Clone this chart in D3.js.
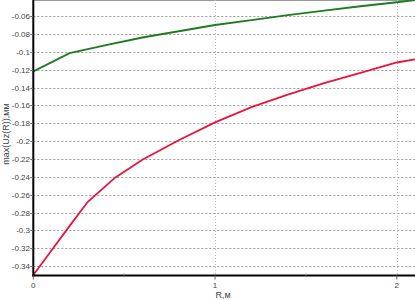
<!DOCTYPE html>
<html>
<head>
<meta charset="utf-8">
<script src="https://cdn.jsdelivr.net/npm/d3@7"></script>
<style>
html,body{margin:0;padding:0;background:#fff;}
svg{display:block;}
text{font-family:"Liberation Sans",Arial,sans-serif;}
</style>
</head>
<body>
<svg id="c" width="415" height="300"></svg>
<script>
const greenR = [0, 0.2, 0.4, 0.6, 0.8, 1.0, 1.2, 1.4, 1.6, 1.8, 2.0, 2.1];
const greenV = [-0.122, -0.1015, -0.0925, -0.084, -0.077, -0.070, -0.0645, -0.059, -0.054, -0.049, -0.0445, -0.042];
const redR = [0, 0.2, 0.3, 0.45, 0.6, 0.8, 1.0, 1.2, 1.4, 1.6, 1.8, 2.0, 2.1];
const redV = [-0.35, -0.295, -0.268, -0.241, -0.221, -0.199, -0.179, -0.162, -0.148, -0.135, -0.1235, -0.112, -0.1085];
const yTicks = [-0.06, -0.08, -0.1, -0.12, -0.14, -0.16, -0.18, -0.2, -0.22, -0.24, -0.26, -0.28, -0.3, -0.32, -0.34];
const xTicks = [0, 1, 2];
const xMinor = [0.5, 1.5];

const svg = d3.select("#c");
const x = d3.scaleLinear().domain([0, 2.1]).range([33.3, 415]);
const y = d3.scaleLinear().domain([-0.35, -0.042]).range([275, 0]);
const L = 33.3, R = 415, T = 0, B = 275.5;

// top border
svg.append("line").attr("x1", L).attr("x2", R).attr("y1", 0.5).attr("y2", 0.5)
  .attr("stroke", "#999").attr("stroke-width", 1);

// horizontal grid
svg.append("g").selectAll("line").data(yTicks).join("line")
  .attr("x1", L).attr("x2", R)
  .attr("y1", d => Math.round(y(d)) + 0.5).attr("y2", d => Math.round(y(d)) + 0.5)
  .attr("stroke", "#999").attr("stroke-dasharray", "2,2");

// vertical grid
svg.append("g").selectAll("line").data(xTicks.filter(d => d > 0)).join("line")
  .attr("x1", d => Math.round(x(d)) + 0.5).attr("x2", d => Math.round(x(d)) + 0.5)
  .attr("y1", T).attr("y2", B)
  .attr("stroke", "#bbb").attr("stroke-dasharray", "1,2");

// lines
const clip = svg.append("clipPath").attr("id", "pc").append("rect")
  .attr("x", L).attr("y", 0).attr("width", R - L).attr("height", B);
const line = d3.line().x(d => x(d[0])).y(d => y(d[1]));
const g = svg.append("g").attr("clip-path", "url(#pc)");
g.append("path").datum(greenR.map((r, i) => [r, greenV[i]]))
  .attr("d", line).attr("fill", "none").attr("stroke", "#1f7a22").attr("stroke-width", 1.8);
g.append("path").datum(redR.map((r, i) => [r, redV[i]]))
  .attr("d", line).attr("fill", "none").attr("stroke", "#e8163c").attr("stroke-width", 1.8);

// axes lines
svg.append("line").attr("x1", L).attr("x2", L).attr("y1", 0).attr("y2", B + 1)
  .attr("stroke", "#000").attr("stroke-width", 2);
svg.append("line").attr("x1", L - 1).attr("x2", R).attr("y1", B).attr("y2", B)
  .attr("stroke", "#000").attr("stroke-width", 2);

// y ticks & labels
const fmt = v => String(+v.toFixed(2));
svg.append("g").selectAll("line").data(yTicks).join("line")
  .attr("x1", L - 3).attr("x2", L)
  .attr("y1", d => Math.round(y(d)) + 0.5).attr("y2", d => Math.round(y(d)) + 0.5)
  .attr("stroke", "#666");
svg.append("g").selectAll("text").data(yTicks).join("text")
  .attr("x", 30).attr("y", d => y(d) + 3)
  .attr("text-anchor", "end").attr("font-size", 8).attr("fill", "#444")
  .text(fmt);

// x ticks & labels
svg.append("g").selectAll("line").data(xTicks).join("line")
  .attr("x1", d => x(d)).attr("x2", d => x(d))
  .attr("y1", B).attr("y2", B + 4)
  .attr("stroke", "#666");
svg.append("g").selectAll("line").data(xMinor).join("line")
  .attr("x1", d => x(d)).attr("x2", d => x(d))
  .attr("y1", B - 2).attr("y2", B)
  .attr("stroke", "#999");
svg.append("g").selectAll("text").data(xTicks).join("text")
  .attr("x", d => x(d)).attr("y", 288)
  .attr("text-anchor", "middle").attr("font-size", 8).attr("fill", "#444")
  .text(d => String(d));

// titles
svg.append("text").attr("x", 223).attr("y", 298).attr("text-anchor", "middle")
  .attr("font-size", 9).attr("fill", "#444").text("R,м");
svg.append("text").attr("transform", "translate(9,134) rotate(-90)")
  .attr("text-anchor", "middle").attr("font-size", 9).attr("fill", "#444")
  .text("max(Uz(R)),мм");
</script>
</body>
</html>
